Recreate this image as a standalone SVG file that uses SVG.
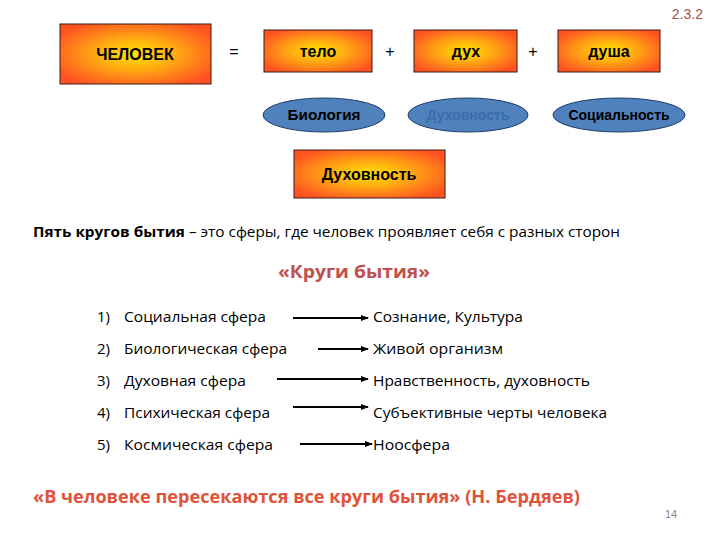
<svg xmlns="http://www.w3.org/2000/svg" width="720" height="540" viewBox="0 0 720 540">
<defs>
<radialGradient id="g" cx="50%" cy="50%" r="60%">
<stop offset="0" stop-color="#ffe400"/>
<stop offset="0.45" stop-color="#ffa812"/>
<stop offset="1" stop-color="#ff5222"/>
</radialGradient>
<marker id="ar" markerWidth="8" markerHeight="6" refX="7" refY="3" orient="auto" markerUnits="userSpaceOnUse">
<path d="M0,0 L8,3 L0,6 z" fill="#000"/>
</marker>
<style>
.box{fill:url(#g);stroke:#3a1a10;stroke-width:1}
.ell{fill:#4f81bd;stroke:#1f3d6a;stroke-width:1}
.bt{font-family:"Liberation Sans",Arial,sans-serif;font-weight:bold;font-size:16px;fill:#000;text-anchor:middle}
.et{font-family:"Liberation Sans",Arial,sans-serif;font-weight:bold;font-size:14px;fill:#000;text-anchor:middle}
.op{font-family:"Liberation Sans",Arial,sans-serif;font-size:16px;fill:#000;text-anchor:middle}
.tx{font-family:"Open Sans","Liberation Sans",sans-serif;font-size:15px;fill:#000}
.arr{stroke:#000;stroke-width:2;fill:none;marker-end:url(#ar)}
</style>
</defs>
<rect width="720" height="540" fill="#fff"/>
<text x="703" y="19" font-family="Liberation Sans, sans-serif" font-size="14" fill="#a0504d" text-anchor="end">2.3.2</text>

<g id="chelovek"><rect class="box" x="60" y="24" width="151" height="60"/><text class="bt" x="135" y="60" font-size="17">ЧЕЛОВЕК</text></g>
<text class="op" x="234" y="57">=</text>
<g id="telo"><rect class="box" x="264" y="30" width="108" height="42"/><text class="bt" x="318" y="57">тело</text></g>
<text class="op" x="390" y="57">+</text>
<g id="duh"><rect class="box" x="414" y="30" width="103" height="42"/><text class="bt" x="466" y="57">дух</text></g>
<text class="op" x="533" y="57">+</text>
<g id="dusha"><rect class="box" x="558" y="30" width="102" height="42"/><text class="bt" x="609" y="57">душа</text></g>

<g id="biologia"><ellipse class="ell" cx="324" cy="115" rx="61" ry="17"/><text class="et" x="324" y="120" textLength="73" lengthAdjust="spacingAndGlyphs">Биология</text></g>
<g id="duhovnost-e"><ellipse class="ell" cx="468" cy="115" rx="60" ry="17"/><text class="et" x="468" y="120" style="fill:#3b6cb0">Духовность</text></g>
<g id="socialnost"><ellipse class="ell" cx="619" cy="115" rx="66" ry="17"/><text class="et" x="619" y="120">Социальность</text></g>

<g id="duhovnost"><rect class="box" x="294" y="150" width="151" height="48"/><text class="bt" x="369" y="180">Духовность</text></g>

<text class="tx" x="33" y="237" textLength="587" lengthAdjust="spacingAndGlyphs"><tspan font-weight="bold">Пять кругов бытия</tspan> – это сферы, где человек проявляет себя с разных сторон</text>
<text x="354" y="278" font-family="Open Sans, Liberation Sans, sans-serif" font-weight="bold" font-size="17" fill="#c0504d" text-anchor="middle" textLength="152" lengthAdjust="spacingAndGlyphs">«Круги бытия»</text>

<g class="tx">
<text x="97" y="322">1)</text><text x="124" y="322" textLength="142" lengthAdjust="spacingAndGlyphs">Социальная сфера</text>
<text x="97" y="354">2)</text><text x="124" y="354" textLength="163" lengthAdjust="spacingAndGlyphs">Биологическая сфера</text>
<text x="97" y="386">3)</text><text x="124" y="386" textLength="122" lengthAdjust="spacingAndGlyphs">Духовная сфера</text>
<text x="97" y="418">4)</text><text x="124" y="418" textLength="146" lengthAdjust="spacingAndGlyphs">Психическая сфера</text>
<text x="97" y="450">5)</text><text x="124" y="450" textLength="149" lengthAdjust="spacingAndGlyphs">Космическая сфера</text>
<text x="373" y="322" textLength="150" lengthAdjust="spacingAndGlyphs">Сознание, Культура</text>
<text x="373" y="354" textLength="130" lengthAdjust="spacingAndGlyphs">Живой организм</text>
<text x="373" y="386" textLength="217" lengthAdjust="spacingAndGlyphs">Нравственность, духовность</text>
<text x="373" y="418" textLength="234" lengthAdjust="spacingAndGlyphs">Субъективные черты человека</text>
<text x="373" y="450" textLength="77" lengthAdjust="spacingAndGlyphs">Ноосфера</text>
</g>

<g id="connectors">
<line class="arr" x1="293" y1="318" x2="368" y2="318"/>
<line class="arr" x1="318" y1="349" x2="368" y2="349"/>
<line class="arr" x1="277" y1="379" x2="368" y2="379"/>
<line class="arr" x1="293" y1="407" x2="368" y2="407"/>
<line class="arr" x1="300" y1="444" x2="372" y2="444"/>
</g>

<text x="33" y="503" font-family="Open Sans, Liberation Sans, sans-serif" font-weight="bold" font-size="17" fill="#e0533a" textLength="547" lengthAdjust="spacingAndGlyphs">«В человеке пересекаются все круги бытия» (Н. Бердяев)</text>
<text x="671" y="518" font-family="Liberation Sans, sans-serif" font-size="11" fill="#888" text-anchor="middle">14</text>
</svg>
